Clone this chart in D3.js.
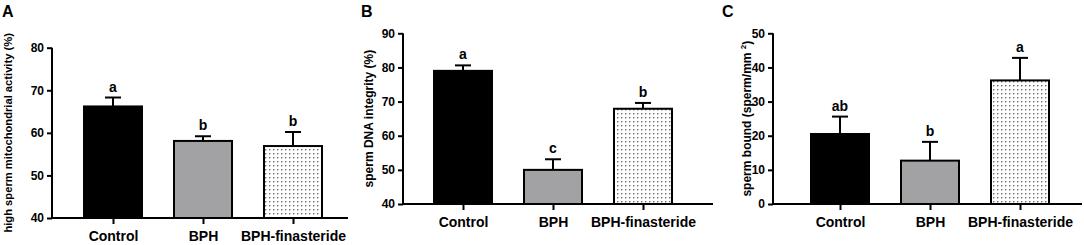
<!DOCTYPE html>
<html>
<head>
<meta charset="utf-8">
<script src="https://cdn.jsdelivr.net/npm/d3@7"></script>
<style>
  body { margin: 0; background: #fff; }
  svg { display: block; font-family: "Liberation Sans", Arial, sans-serif; font-weight: bold; }
</style>
</head>
<body>
<script>
// data
const groups = ['Control', 'BPH', 'BPH-finasteride'];

const mitoMean = [66.2, 58.1, 56.9];
const mitoErr = [68.3, 59.2, 60.2];   // top of error bar
const mitoLetters = ['a', 'b', 'b'];
const mitoTicks = [40, 50, 60, 70, 80];

const dnaMean = [79.0, 50.0, 67.9];
const dnaErr = [80.6, 53.1, 69.6];
const dnaLetters = ['a', 'c', 'b'];
const dnaTicks = [40, 50, 60, 70, 80, 90];

const boundMean = [20.5, 12.7, 36.2];
const boundErr = [25.6, 18.2, 42.8];
const boundLetters = ['ab', 'b', 'a'];
const boundTicks = [0, 10, 20, 30, 40, 50];

let svg = d3.select('body').append('svg')
    .attr('width', 1084)
    .attr('height', 245);

// dotted fill for the finasteride bar
let defs = svg.append('defs');
let pat = defs.append('pattern')
    .attr('id', 'dots')
    .attr('patternUnits', 'userSpaceOnUse')
    .attr('width', 4)
    .attr('height', 4);
pat.append('rect').attr('width', 4).attr('height', 4).attr('fill', '#fff');
pat.append('rect')
    .attr('x', 1).attr('y', 1)
    .attr('width', 1.4).attr('height', 1.4)
    .attr('fill', '#6a6a6a');

const fills = ['#000', '#a2a2a5', 'url(#dots)'];

const panels = [
    {letter: 'A', lx: 2, axisX: 52, xEnd: 348, top: 47.7, bottom: 218, p0: 113, p1: 293,
     domain: [40, 80], ticks: mitoTicks, mean: mitoMean, err: mitoErr, sig: mitoLetters,
     titleX: 12, titleSize: 11.2, title: ['high sperm mitochondrial activity (%)']},
    {letter: 'B', lx: 361, axisX: 403, xEnd: 713, top: 33.3, bottom: 204, p0: 463, p1: 643,
     domain: [40, 90], ticks: dnaTicks, mean: dnaMean, err: dnaErr, sig: dnaLetters,
     titleX: 373, titleSize: 12, title: ['sperm DNA integrity (%)']},
    {letter: 'C', lx: 722, axisX: 773, xEnd: 1082, top: 33.3, bottom: 204, p0: 840, p1: 1020,
     domain: [0, 50], ticks: boundTicks, mean: boundMean, err: boundErr, sig: boundLetters,
     titleX: 751, titleSize: 12, title: ['sperm bound (sperm/mm ', '2', ')']}
];

const barW = 58;
const capW = 16;

panels.forEach(p => {
    let g = svg.append('g');

    let y = d3.scaleLinear().domain(p.domain).range([p.bottom, p.top]);
    let x = d3.scalePoint().domain(groups).range([p.p0, p.p1]);

    // panel letter
    g.append('text')
        .attr('x', p.lx)
        .attr('y', 17)
        .style('font-size', '16px')
        .text(p.letter);

    // error bars (upper only)
    groups.forEach((c, i) => {
        g.append('line')
            .attr('x1', x(c)).attr('x2', x(c))
            .attr('y1', y(p.mean[i])).attr('y2', y(p.err[i]))
            .attr('stroke', '#000').attr('stroke-width', 2);
        g.append('line')
            .attr('x1', x(c) - capW / 2).attr('x2', x(c) + capW / 2)
            .attr('y1', y(p.err[i])).attr('y2', y(p.err[i]))
            .attr('stroke', '#000').attr('stroke-width', 2);
        g.append('text')
            .attr('x', x(c))
            .attr('y', y(p.err[i]) - 6)
            .attr('text-anchor', 'middle')
            .style('font-size', '14px')
            .text(p.sig[i]);
    });

    // bars
    g.selectAll('.bar')
        .data(groups)
        .enter()
        .append('rect')
        .attr('class', 'bar')
        .attr('x', d => x(d) - barW / 2)
        .attr('y', (d, i) => y(p.mean[i]))
        .attr('width', barW)
        .attr('height', (d, i) => y(p.domain[0]) - y(p.mean[i]))
        .attr('fill', (d, i) => fills[i])
        .attr('stroke', '#000')
        .attr('stroke-width', 2);

    // y axis
    let ya = g.append('g')
        .attr('transform', 'translate(' + p.axisX + ',0)')
        .call(d3.axisLeft(y).tickValues(p.ticks).tickSize(5).tickSizeOuter(0).tickPadding(3));
    ya.selectAll('path, line').attr('stroke', '#000').attr('stroke-width', 2);
    ya.select('.domain').attr('d', 'M0,' + (y(p.domain[0]) + 1) + 'V' + y(p.domain[1]));
    ya.selectAll('text')
        .style('font-size', '12px')
        .style('font-family', '"Liberation Sans", Arial, sans-serif')
        .style('font-weight', 'bold')
        .attr('fill', '#000');

    // x axis
    g.append('line')
        .attr('x1', p.axisX - 1).attr('x2', p.xEnd)
        .attr('y1', p.bottom).attr('y2', p.bottom)
        .attr('stroke', '#000').attr('stroke-width', 2);
    let xa = g.append('g')
        .attr('transform', 'translate(0,' + p.bottom + ')')
        .call(d3.axisBottom(x).tickSize(6).tickSizeOuter(0).tickPadding(7));
    xa.select('.domain').remove();
    xa.selectAll('line').attr('stroke', '#000').attr('stroke-width', 2);
    xa.selectAll('text')
        .style('font-size', '14px')
        .style('font-family', '"Liberation Sans", Arial, sans-serif')
        .style('font-weight', 'bold')
        .attr('fill', '#000');

    // y title
    let t = g.append('text')
        .attr('transform', 'translate(' + p.titleX + ',' + (p.top + p.bottom) / 2 + ') rotate(-90)')
        .attr('text-anchor', 'middle')
        .style('font-size', p.titleSize + 'px');
    t.append('tspan').text(p.title[0]);
    if (p.title.length > 1) {
        t.append('tspan').attr('dy', -5).style('font-size', '8px').text(p.title[1]);
        t.append('tspan').attr('dy', 5).text(p.title[2]);
    }
});
</script>
</body>
</html>
